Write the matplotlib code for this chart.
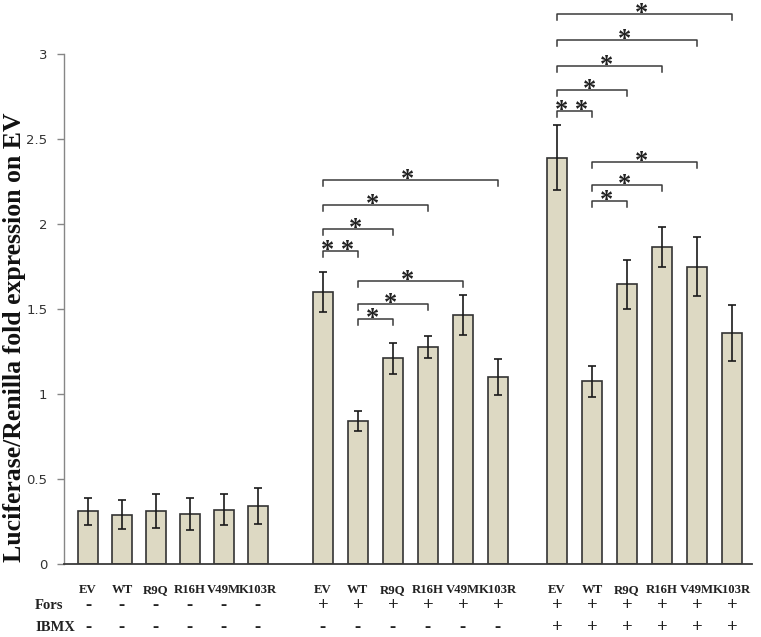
import matplotlib
matplotlib.use('Agg')
import matplotlib.pyplot as plt
import numpy as np

constructs = ['EV', 'WT', 'R9Q', 'R16H', 'V49M', 'K103R']

# fold expression (mean) and error, one list per treatment group
none_mean = [0.31, 0.29, 0.31, 0.295, 0.32, 0.34]
none_err = [0.08, 0.085, 0.10, 0.095, 0.09, 0.105]
fors_mean = [1.60, 0.84, 1.21, 1.275, 1.465, 1.10]
fors_err = [0.115, 0.06, 0.09, 0.065, 0.12, 0.105]
ibmx_mean = [2.39, 1.075, 1.645, 1.865, 1.75, 1.36]
ibmx_err = [0.19, 0.09, 0.145, 0.12, 0.175, 0.165]

fors_signs = ['-'] * 6 + ['+'] * 6 + ['+'] * 6
ibmx_signs = ['-'] * 6 + ['-'] * 6 + ['+'] * 6

# significance brackets: group, left bar, right bar, height, label
br_group = [1, 1, 1, 1, 1, 1, 1, 2, 2, 2, 2, 2, 2, 2, 2]
br_left = [0, 0, 0, 0, 1, 1, 1, 0, 0, 0, 0, 0, 1, 1, 1]
br_right = [1, 2, 3, 5, 2, 3, 4, 1, 2, 3, 4, 5, 2, 3, 4]
br_height = [1.84, 1.97, 2.11, 2.26, 1.44, 1.53, 1.667,
             2.665, 2.79, 2.93, 3.08, 3.235, 2.135, 2.23, 2.367]
br_label = ['* *', '*', '*', '*', '*', '*', '*',
            '* *', '*', '*', '*', '*', '*', '*', '*']

means = [none_mean, fors_mean, ibmx_mean]
errs = [none_err, fors_err, ibmx_err]
group_start = [0, 6.71, 13.4]
group_step = [0.97, 1.0, 1.0]

fig = plt.figure(figsize=(7.61, 6.37), dpi=100)
ax = fig.add_axes([0.0841, 0.1146, 0.9041, 0.8006])

serif = 'Liberation Serif'
xpos = []
for g in range(3):
    x = group_start[g] + np.arange(6) * group_step[g]
    xpos.append(x)
    ax.bar(x, means[g], width=0.57, color='#ddd9c3', edgecolor='#333333',
           linewidth=1.2, zorder=2)
    ax.errorbar(x, means[g], yerr=errs[g], fmt='none', ecolor='#1a1a1a',
                elinewidth=1.2, capsize=3.2, capthick=1.2, zorder=3)

# brackets
drop = 0.035
for k in range(len(br_group)):
    g = br_group[k]
    x1 = xpos[g][br_left[k]]
    x2 = xpos[g][br_right[k]]
    h = br_height[k]
    ax.plot([x1, x1, x2, x2], [h - drop, h, h, h - drop], color='#3a3a3a',
            linewidth=1.1, clip_on=False, zorder=4)
    ax.text((x1 + x2) / 2 - 0.08, h - 0.035, br_label[k], ha='center', va='baseline',
            fontsize=19, family=serif, fontweight='bold', color='#222222',
            clip_on=False)

ax.set_xlim(-0.686, 18.97)
ax.set_ylim(0, 3)
ax.set_yticks([0, 0.5, 1, 1.5, 2, 2.5, 3])
ax.set_yticklabels(['0', '0.5', '1', '1.5', '2', '2.5', '3'])
ax.tick_params(axis='y', length=5, width=1, color='#868686', pad=7,
               labelsize=9.5, labelcolor='#333333')
ax.set_xticks([])
for s in ['top', 'right']:
    ax.spines[s].set_visible(False)
ax.spines['left'].set_color('#868686')
ax.spines['left'].set_linewidth(1.0)
ax.spines['bottom'].set_color('#3a3a3a')
ax.spines['bottom'].set_linewidth(1.3)

# labels under the bars
allx = np.concatenate(xpos)
names = constructs * 3
for i in range(18):
    ax.text(allx[i], -0.172, names[i], ha='center', va='baseline', fontsize=9.2,
            family=serif, fontweight='bold', color='#222222', clip_on=False)
    ax.text(allx[i], -0.247, fors_signs[i], ha='center', va='center', fontsize=13.5,
            family=serif, fontweight='bold', color='#222222', clip_on=False)
    ax.text(allx[i], -0.376, ibmx_signs[i], ha='center', va='center', fontsize=13.5,
            family=serif, fontweight='bold', color='#222222', clip_on=False)
ax.text(-1.51, -0.247, 'Fors', ha='left', va='center', fontsize=10.5,
        family=serif, fontweight='bold', color='#222222', clip_on=False)
ax.text(-1.51, -0.376, 'IBMX', ha='left', va='center', fontsize=10.5,
        family=serif, fontweight='bold', color='#222222', clip_on=False)

fig.text(15 / 761, 1 - 337 / 637, 'Luciferase/Renilla fold expression on EV',
         rotation=90, ha='center', va='center', fontsize=18.5, family=serif,
         fontweight='bold', color='#111111')

fig.savefig('out.png', dpi=100)
